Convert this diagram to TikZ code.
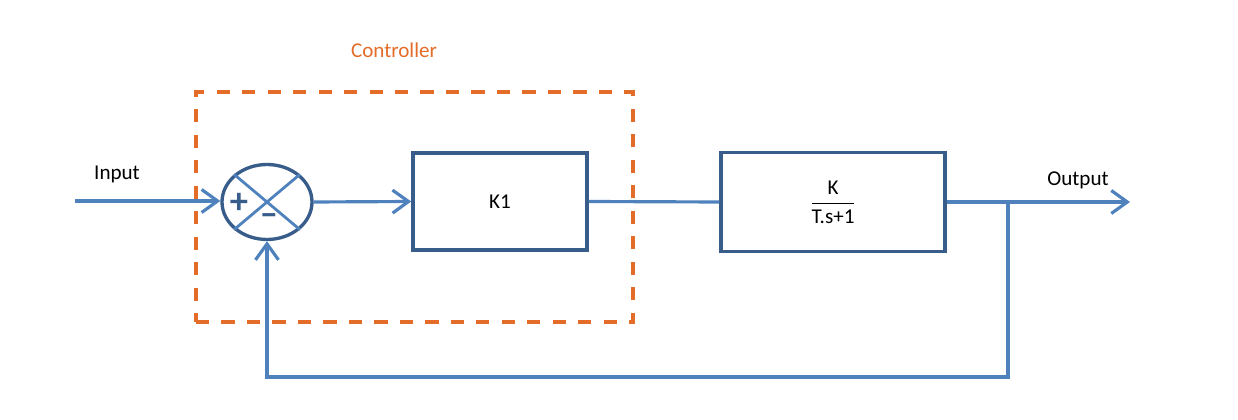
\documentclass[tikz,border=0pt]{standalone}
\usepackage{amsmath}
\usepackage{fontspec}
\setmainfont{Carlito}
\usepackage{xcolor}
\usetikzlibrary{arrows.meta,positioning,shapes.geometric,calc}
\definecolor{lineblue}{RGB}{79,129,189}
\definecolor{boxblue}{RGB}{56,93,138}
\definecolor{ctrlorange}{RGB}{226,108,40}
\tikzset{
  block/.style={draw=boxblue, line width=2pt, fill=white, minimum width=3.48cm,
                minimum height=1.94cm, font=\fontsize{12}{14}\selectfont},
  sumnode/.style={draw=boxblue, ellipse, line width=1.9pt, minimum width=1.8cm,
                  minimum height=1.5cm, inner sep=0pt},
  sig/.style={draw=lineblue, line width=1.8pt},
  flow/.style={sig, -{Straight Barb[length=3.2mm, width=4.6mm, line width=1.8pt]}},
  lbl/.style={font=\fontsize{12}{14}\selectfont},
  sign/.style={text=boxblue, font=\huge\bfseries, inner sep=0pt},
}

\begin{document}
\begin{tikzpicture}
  \useasboundingbox (0,0) rectangle (24.76,8.4);
  % controller frame
  \node[draw=ctrlorange, line width=2pt, dash pattern=on 7.5pt off 7pt,
        minimum width=8.74cm, minimum height=4.6cm] (frame) at (8.29,4.26) {};
  \node[lbl, text=ctrlorange] (ctrltext) at (7.88,7.4) {Controller};
  % blocks
  \coordinate (in) at (1.5,4.38);
  \node[sumnode] (sum) at (5.34,4.36) {};
  \draw[lineblue, line width=1.6pt] (sum.north west) -- (sum.south east);
  \draw[lineblue, line width=1.6pt] (sum.north east) -- (sum.south west);
  \node[sign] (plus) at (4.78,4.34) {+};
  \node[sign] (minus) at (5.38,4.0) {\textendash};
  \node[block] (k1) at (10.0,4.37) {K1};
  \node[block, minimum width=4.48cm, minimum height=1.98cm] (plant) at (16.66,4.36)
       {$\dfrac{\text{K}}{\text{T.s+1}}$};
  \coordinate (out) at (22.6,4.36);
  \coordinate (branch) at (20.16,4.36);
  \coordinate (fbr) at (20.16,0.86);
  \coordinate (fbl) at (sum.south |- fbr);
  % labels
  \node[lbl] (intext) at (2.34,4.92) {Input};
  \node[lbl] (outtext) at (21.56,4.8) {Output};
  % signals
  \draw[flow] (in) -- (sum.west |- in);
  \draw[flow] (sum.east) -- (k1.west);
  \draw[sig] (k1.east) -- (plant.west);
  \draw[flow] (plant.east) -- (out);
  \draw[flow] (branch) -- (fbr) -- (fbl) -- (sum.south);
\end{tikzpicture}
\end{document}
